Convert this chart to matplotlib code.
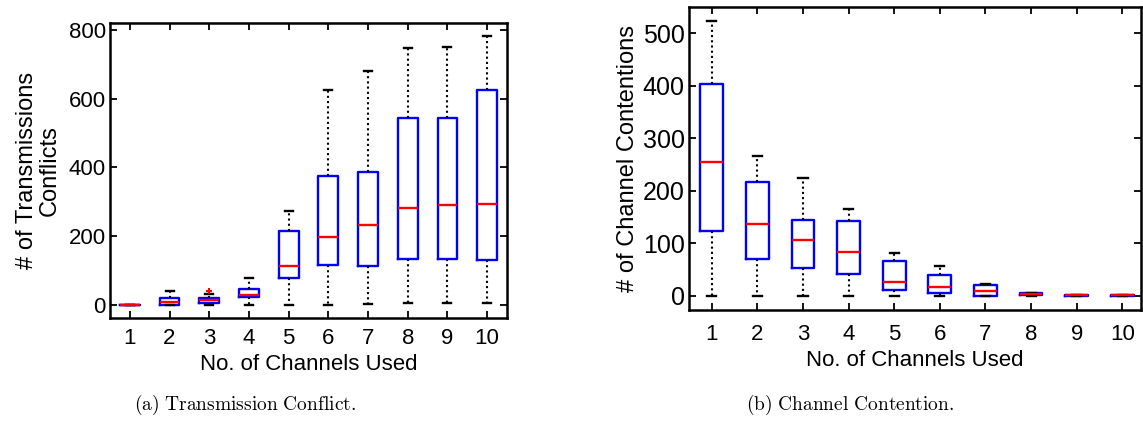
import matplotlib.pyplot as plt

plt.rcParams['font.family'] = ['Liberation Sans', 'DejaVu Sans']
plt.rcParams['mathtext.fontset'] = 'cm'

channels = [1, 2, 3, 4, 5, 6, 7, 8, 9, 10]

# (a) transmission conflicts per number of channels
conf_low = [0, 0, 0, 0, 0, 0, 3, 5, 5, 5]
conf_q1 = [0, 0, 6, 23, 79, 115, 114, 133, 135, 130]
conf_med = [0, 9, 13, 30, 113, 197, 233, 283, 291, 293]
conf_q3 = [1, 21, 19, 47, 215, 374, 386, 544, 544, 626]
conf_high = [1, 41, 32, 79, 273, 624, 680, 746, 751, 781]
conf_fliers = [[], [], [41], [], [], [], [], [], [], []]

# (b) channel contentions per number of channels
cont_low = [0, 0, 0, 0, 0, 0, 0, 0, 0, 0]
cont_q1 = [124, 70, 53, 41, 12, 6, 0, 1, 0, 0]
cont_med = [254, 137, 107, 84, 27, 16, 9, 3, 1, 1]
cont_q3 = [403, 216, 144, 142, 67, 39, 20, 6, 2, 2]
cont_high = [524, 266, 224, 165, 81, 57, 23, 6, 2, 2]
cont_fliers = [[] for _ in channels]


def make_stats(low, q1, med, q3, high, fliers):
    stats = []
    for i in range(len(channels)):
        stats.append({'whislo': low[i], 'q1': q1[i], 'med': med[i],
                      'q3': q3[i], 'whishi': high[i], 'fliers': fliers[i]})
    return stats


def draw_box(ax, stats):
    ax.bxp(stats, positions=channels, widths=0.5, capwidths=0.2,
           boxprops=dict(color='#0000ff', lw=1.7),
           medianprops=dict(color='#ff0000', lw=1.7),
           whiskerprops=dict(color='black', lw=1.5, linestyle=(0, (1, 1.5))),
           capprops=dict(color='black', lw=1.7),
           flierprops=dict(marker='+', markeredgecolor='#ff0000',
                           markersize=5, mew=1.5))
    ax.set_xlim(0.5, 10.5)
    ax.set_xticks(channels)
    ax.set_xticklabels([str(c) for c in channels])
    ax.tick_params(direction='in', top=True, right=True, length=5, width=1.3,
                   labelsize=16, pad=7)
    for s in ax.spines.values():
        s.set_linewidth(1.8)


fig = plt.figure(figsize=(11.43, 4.36), dpi=100)

ax1 = fig.add_axes([110 / 1143, 1 - 318 / 436, 397 / 1143, 295 / 436])
draw_box(ax1, make_stats(conf_low, conf_q1, conf_med, conf_q3, conf_high, conf_fliers))
ax1.set_ylim(-38, 820)
ax1.set_yticks([0, 200, 400, 600, 800])
ax1.tick_params(axis='y', pad=3)
ax1.set_xlabel('No. of Channels Used', fontsize=16, labelpad=4)
ax1.set_ylabel('# of Transmissions\nConflicts', fontsize=17, labelpad=6,
               linespacing=1.0)

ax2 = fig.add_axes([689 / 1143, 1 - 310 / 436, 452 / 1143, 303 / 436])
draw_box(ax2, make_stats(cont_low, cont_q1, cont_med, cont_q3, cont_high, cont_fliers))
ax2.set_xlim(0.5, 10.41)
ax2.set_ylim(-27, 550)
ax2.set_yticks([0, 100, 200, 300, 400, 500])
ax2.tick_params(axis='y', labelsize=18, pad=3)
ax2.tick_params(axis='x', pad=10)
ax2.set_xlabel('No. of Channels Used', fontsize=16, labelpad=4)
ax2.set_ylabel('# of Channel Contentions', fontsize=17, labelpad=3)

fig.text(245 / 1143, 1 - 405 / 436, r'$\mathrm{(a)\ Transmission\ Conflict.}$',
         ha='center', va='center', fontsize=14)
fig.text(850 / 1143, 1 - 405 / 436, r'$\mathrm{(b)\ Channel\ Contention.}$',
         ha='center', va='center', fontsize=14)

fig.savefig('out.png', dpi=100)
